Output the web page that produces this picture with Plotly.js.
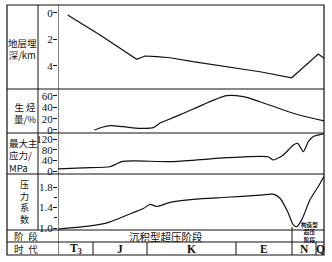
<!DOCTYPE html>
<html>
<head>
<meta charset="utf-8">
<script src="https://cdn.plot.ly/plotly-3.0.1.min.js"></script>
<style>html,body{margin:0;padding:0;background:#fff;}#chart{width:332px;height:262px;}</style>
</head>
<body>
<div id="chart"></div>
<script>
// ---- data (x = relative time position along the chart) ----
const periodBounds = [0, 35, 89, 178, 234, 258, 266];
const periodLabels = ['T<sub>3</sub>', 'J', 'K', 'E', 'N', 'Q'];
const stageLabels = ['沉积型超压阶段', '构造型<br>超压<br>阶段'];
const panelLabels = ['地层埋<br>深/km', '生 烃<br>量/%', '最大主<br>应力/<br>MPa', '压<br>力<br>系<br>数'];
const rowLabels = ['阶\u2002段', '时\u2002代'];

const depthX  = [9.7, 42, 78.7, 87, 98.7, 112, 135, 168.7, 202, 233.7, 260.3, 266];
const depthKm = [0.17, 1.68, 3.51, 3.26, 3.31, 3.39, 3.69, 4.07, 4.45, 4.9, 3.11, 3.43];

const genX   = [36.3, 45, 52, 65.3, 82, 95.3, 102, 112, 135.3, 168.7, 185.3, 202, 235.3, 266];
const genPct = [0, 5.3, 7.6, 5.8, 3.0, 4.1, 12.3, 19.4, 37.0, 60.5, 58.7, 49.9, 29.5, 15.9];

const stressX   = [0, 25.3, 52, 57, 63.7, 75.3, 112, 135.3, 168.7, 210, 215.3, 225.3, 235.3, 239.7, 245.3, 250.3, 255.3, 266];
const stressMPa = [9, 13, 17, 25, 36, 38.5, 36, 41, 50.5, 54, 42, 60.5, 98, 104, 73, 110, 129, 140];

const presX    = [0, 25.3, 42, 52, 68.7, 85.3, 92, 98.7, 112, 135.3, 168.7, 202, 215.3, 222, 230.3, 235.3, 238.7, 243.7, 252, 260.3, 266];
const presCoef = [0.98, 1.025, 1.07, 1.12, 1.25, 1.38, 1.46, 1.42, 1.50, 1.56, 1.60, 1.64, 1.66, 1.58, 1.29, 1.06, 1.025, 1.16, 1.55, 1.81, 2.01];

// ---- geometry helpers (pixel -> paper) ----
const L = 7, R = 324, T = 5, B = 255;
const px = p => (p - L) / (R - L);
const py = p => (B - p) / (B - T);
const dom = (top, bot) => [py(bot), py(top)];

const lineStyle = {color: '#111', width: 1.2};
const traces = [
  {x: depthX, y: depthKm, xaxis: 'x', yaxis: 'y', mode: 'lines', line: lineStyle},
  {x: genX, y: genPct, xaxis: 'x', yaxis: 'y2', mode: 'lines', line: Object.assign({shape: 'spline', smoothing: 0.8}, lineStyle)},
  {x: stressX, y: stressMPa, xaxis: 'x', yaxis: 'y3', mode: 'lines', line: Object.assign({shape: 'spline', smoothing: 0.6}, lineStyle)},
  {x: presX, y: presCoef, xaxis: 'x', yaxis: 'y4', mode: 'lines', line: Object.assign({shape: 'spline', smoothing: 0.8}, lineStyle)}
];

const tickFont = {family: 'Liberation Serif, serif', size: 11, color: '#111'};
const yBase = {showline: false, zeroline: false, showgrid: false, ticks: 'outside', ticklen: 4, tickwidth: 1, tickcolor: '#111',
  tickfont: tickFont, ticklabelstandoff: -2, anchor: 'x', fixedrange: true};

const layout = {
  width: 332, height: 262,
  margin: {l: L, r: 332 - R, t: T, b: 262 - B},
  paper_bgcolor: '#fff', plot_bgcolor: '#fff',
  showlegend: false,
  xaxis: {domain: [px(58), 1], range: [periodBounds[0], periodBounds[periodBounds.length - 1]], visible: false, fixedrange: true},
  yaxis: Object.assign({}, yBase, {domain: dom(5, 89), range: [5.75, -0.59], tickvals: [0, 2, 4]}),
  yaxis2: Object.assign({}, yBase, {domain: dom(89, 133), range: [-5.3, 72.3], tickvals: [0, 20, 40, 60]}),
  yaxis3: Object.assign({}, yBase, {domain: dom(133, 174), range: [-10, 142.4], tickvals: [0, 40, 80, 120]}),
  yaxis4: Object.assign({}, yBase, {domain: dom(174, 230), range: [0.961, 2.054], tickvals: [1.0, 1.4, 1.8], ticktext: ['1.0', '1.4', '1.8'],
    minor: {tickvals: [1.2, 1.6], ticks: 'outside', ticklen: 3, tickcolor: '#111'}}),
  shapes: [],
  annotations: []
};

const blk = {color: '#111', width: 1};
// outer frame
layout.shapes.push({type: 'rect', xref: 'paper', yref: 'paper', x0: 0, x1: 1, y0: 0, y1: 1, line: {color: '#111', width: 1.2}});
// horizontal separators
[89, 133, 174, 230, 242].forEach(p => layout.shapes.push({type: 'line', xref: 'paper', yref: 'paper', x0: 0, x1: 1, y0: py(p), y1: py(p), line: blk}));
// label column divider
layout.shapes.push({type: 'line', xref: 'paper', yref: 'paper', x0: px(38), x1: px(38), y0: py(230), y1: 1, line: blk});
// axis line / content divider
layout.shapes.push({type: 'line', xref: 'x', yref: 'paper', x0: periodBounds[0], x1: periodBounds[0], y0: 0, y1: 1, line: blk});
// period dividers in the time row
for (let i = 1; i < periodBounds.length - 1; i++) {
  layout.shapes.push({type: 'line', xref: 'x', yref: 'paper', x0: periodBounds[i], x1: periodBounds[i], y0: 0, y1: py(242), line: blk});
}
// stage divider
layout.shapes.push({type: 'line', xref: 'x', yref: 'paper', x0: periodBounds[4], x1: periodBounds[4], y0: py(242), y1: py(227), line: blk});

const cjk = 'Noto Sans CJK SC, sans-serif';
function ann(text, xp, yp, size, extra) {
  layout.annotations.push(Object.assign({text: text, xref: 'paper', yref: 'paper', x: px(xp), y: py(yp), showarrow: false,
    xanchor: 'center', yanchor: 'middle', font: {family: cjk, size: size, color: '#111'}, borderpad: 0}, extra || {}));
}
// left column labels
ann(panelLabels[0], 22.5, 48.5, 9.5);
ann(panelLabels[1], 25, 112.5, 9.5);
ann(panelLabels[2], 7.5, 155.5, 9.5, {xanchor: 'left', align: 'left'});
ann(panelLabels[3], 24, 202, 9);
ann(rowLabels[0], 25.5, 236, 9.5);
ann(rowLabels[1], 25.5, 249, 9.5);

// stage labels
layout.annotations.push({text: stageLabels[0], xref: 'x', yref: 'paper', x: 107.5, y: py(236), showarrow: false,
  xanchor: 'center', yanchor: 'middle', font: {family: cjk, size: 10.5, color: '#111'}});
ann(stageLabels[1], 309, 232.5, 5.6, {font: {family: cjk, size: 5.6, color: '#111', weight: 'bold'}});

// period labels
for (let i = 0; i < periodLabels.length; i++) {
  layout.annotations.push({text: periodLabels[i], xref: 'x', yref: 'paper', x: (periodBounds[i] + periodBounds[i + 1]) / 2, y: py(248.5),
    showarrow: false, xanchor: 'center', yanchor: 'middle', font: {family: 'Liberation Serif, serif', size: 11.5, color: '#111', weight: 'bold'}});
}

Plotly.newPlot('chart', traces, layout, {staticPlot: true, displayModeBar: false});
</script>
</body>
</html>
